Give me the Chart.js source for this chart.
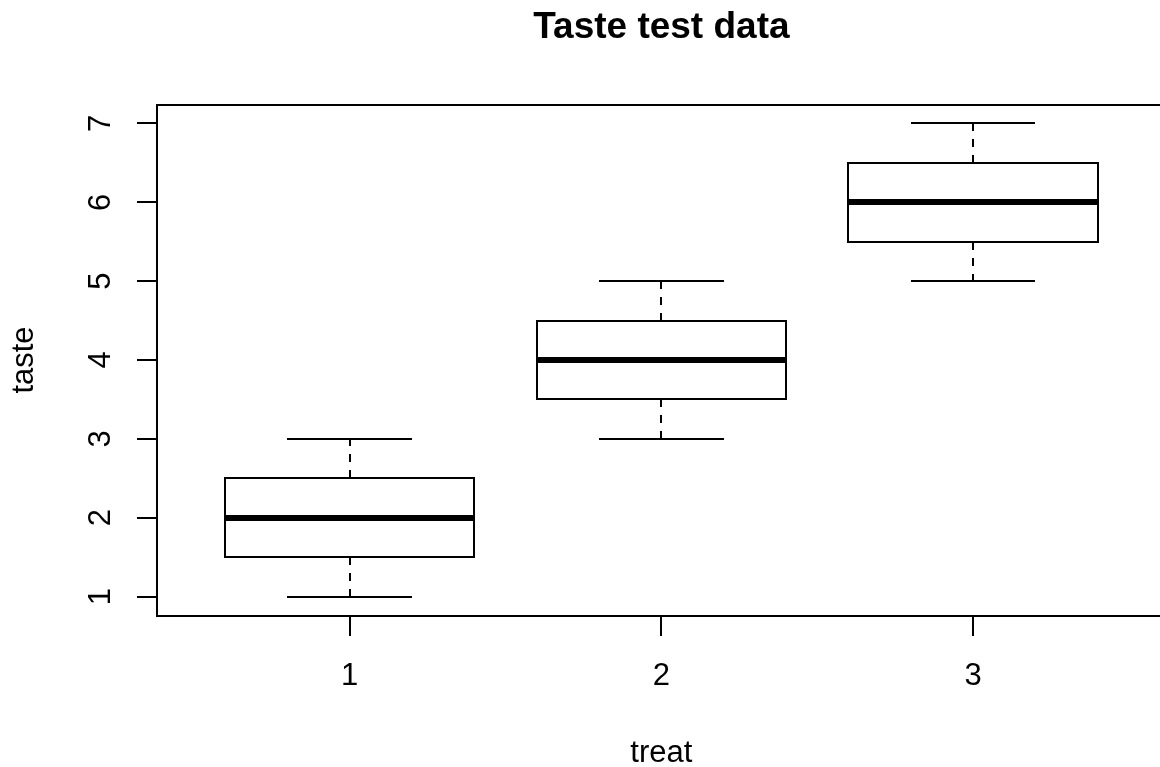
<!DOCTYPE html>
<html lang="en">
<head>
    <meta charset="UTF-8">
    <title>Taste test data</title>
    <script src="https://cdn.jsdelivr.net/npm/chart.js"></script>
    <style>
        body { margin: 0; background: #fff; }
    </style>
</head>
<body>
    <canvas id="tasteChart" width="1160" height="767"></canvas>

    <script>
        // data
        const treats = [1, 2, 3];
        const treatLabels = ["1", "2", "3"];
        const lowWhisker = [1, 3, 5];
        const lowerQuartile = [1.5, 3.5, 5.5];
        const medians = [2, 4, 6];
        const upperQuartile = [2.5, 4.5, 6.5];
        const highWhisker = [3, 5, 7];
        const yTicks = [1, 2, 3, 4, 5, 6, 7];

        const FONT = '"Liberation Sans", Arial, Helvetica, sans-serif';

        // draws the R-style boxplot, axes and titles using the chart scales
        const boxplotPlugin = {
            id: "boxplot",
            afterDraw(chart) {
                const ctx = chart.ctx;
                const x = chart.scales.x;
                const y = chart.scales.y;
                const area = chart.chartArea;
                const r = Math.round;
                const px = v => r(x.getPixelForValue(v));
                const py = v => r(y.getPixelForValue(v));
                const aL = r(area.left), aT = r(area.top), aB = r(area.bottom);

                ctx.save();
                ctx.strokeStyle = "#000";
                ctx.fillStyle = "#000";
                ctx.lineWidth = 2;
                ctx.lineCap = "butt";

                function line(x1, y1, x2, y2) {
                    ctx.beginPath();
                    ctx.moveTo(x1, y1);
                    ctx.lineTo(x2, y2);
                    ctx.stroke();
                }

                treats.forEach((t, i) => {
                    const cx = px(t);
                    const left = px(t - 0.4);
                    const right = px(t + 0.4);
                    const capL = px(t - 0.2);
                    const capR = px(t + 0.2);
                    const yLo = py(lowWhisker[i]);
                    const yQ1 = py(lowerQuartile[i]);
                    const yMed = py(medians[i]);
                    const yQ3 = py(upperQuartile[i]);
                    const yHi = py(highWhisker[i]);

                    // dashed whiskers, dashes start at the box
                    ctx.setLineDash([8, 8]);
                    line(cx, yQ3, cx, yHi);
                    line(cx, yQ1, cx, yLo);
                    ctx.setLineDash([]);

                    // whisker caps
                    line(capL, yHi, capR, yHi);
                    line(capL, yLo, capR, yLo);

                    // box
                    ctx.beginPath();
                    ctx.rect(left, yQ3, right - left, yQ1 - yQ3);
                    ctx.stroke();

                    // median
                    ctx.lineWidth = 6;
                    line(left, yMed, right, yMed);
                    ctx.lineWidth = 2;
                });

                // plot frame (right side falls outside the canvas)
                line(aL - 1, aT, chart.width, aT);
                line(aL, aT, aL, aB);
                line(aL - 1, aB, chart.width, aB);

                // y axis ticks and rotated labels
                ctx.font = "31px " + FONT;
                yTicks.forEach(v => {
                    const ty = py(v);
                    line(aL - 20, ty, aL, ty);
                    ctx.save();
                    ctx.translate(110, y.getPixelForValue(v));
                    ctx.rotate(-Math.PI / 2);
                    ctx.textAlign = "center";
                    ctx.textBaseline = "alphabetic";
                    ctx.fillText(String(v), 0, 0);
                    ctx.restore();
                });

                // x axis ticks and labels
                treats.forEach((t, i) => {
                    const tx = px(t);
                    line(tx, aB, tx, aB + 20);
                    ctx.textAlign = "center";
                    ctx.textBaseline = "alphabetic";
                    ctx.fillText(treatLabels[i], x.getPixelForValue(t), 685);
                });

                // axis titles
                const midX = x.getPixelForValue(2);
                ctx.fillText("treat", midX, 762);
                ctx.save();
                ctx.translate(33, (area.top + area.bottom) / 2);
                ctx.rotate(-Math.PI / 2);
                ctx.fillText("taste", 0, 0);
                ctx.restore();

                // main title
                ctx.font = "bold 37px " + FONT;
                ctx.fillText("Taste test data", midX, 37.5);

                ctx.restore();
            }
        };

        const chart = new Chart(document.getElementById("tasteChart"), {
            type: "scatter",
            data: { datasets: [] },
            options: {
                responsive: false,
                animation: false,
                devicePixelRatio: 1,
                layout: {
                    padding: { left: 156.5, top: 104.5, right: 0, bottom: 151.5 }
                },
                plugins: {
                    legend: { display: false },
                    tooltip: { enabled: false }
                },
                scales: {
                    x: { type: "linear", min: 0.38, max: 3.6, display: false },
                    y: { type: "linear", min: 0.76, max: 7.24, display: false }
                }
            },
            plugins: [boxplotPlugin]
        });
    </script>
</body>
</html>
